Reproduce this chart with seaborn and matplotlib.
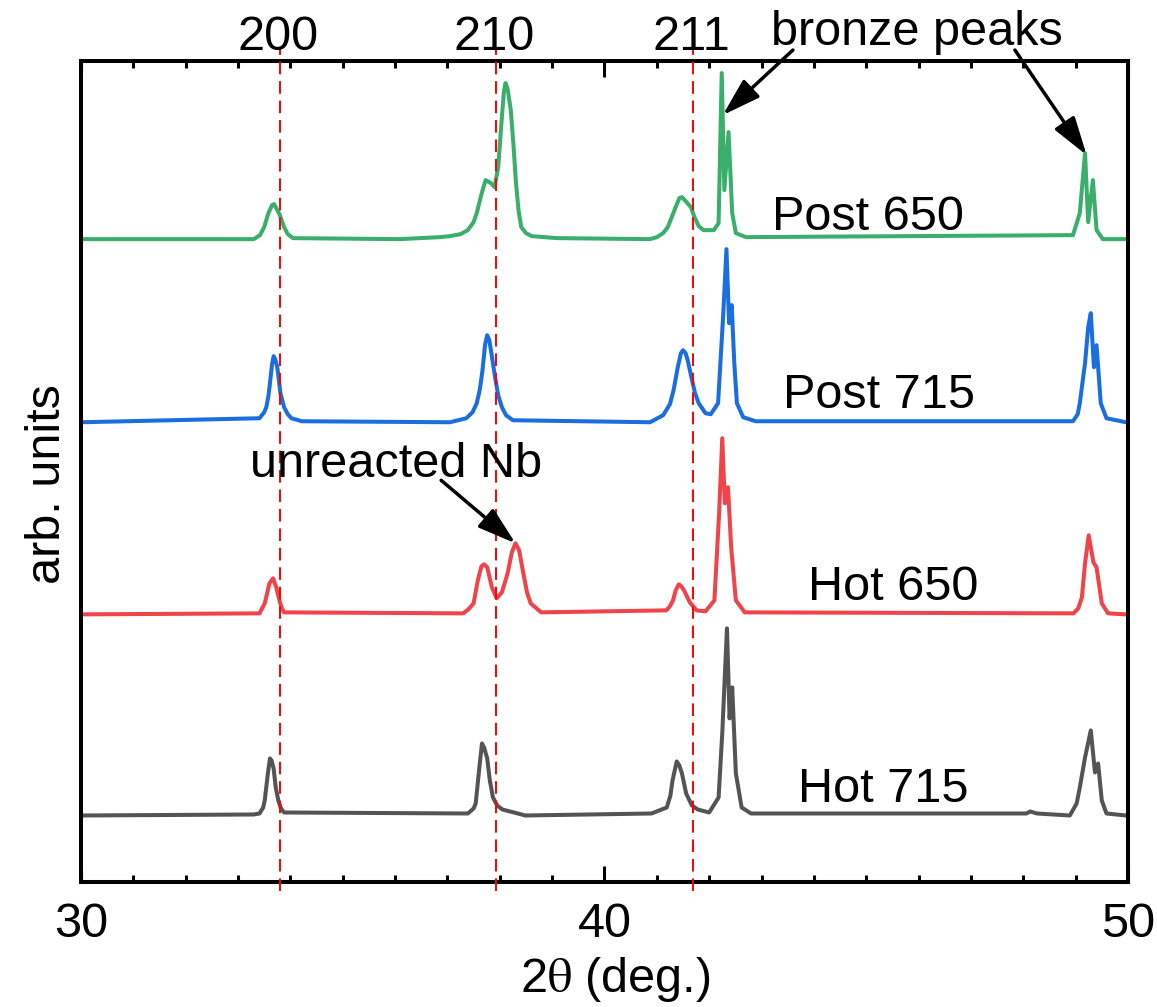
import matplotlib
matplotlib.use("Agg")
import numpy as np
import pandas as pd
import matplotlib.pyplot as plt
import seaborn as sns
from matplotlib.ticker import MultipleLocator

sns.set_theme(style="ticks")
plt.rcParams["font.family"] = ["Liberation Sans", "DejaVu Sans"]
plt.rcParams["mathtext.fontset"] = "stix"
plt.rcParams["text.color"] = "black"
plt.rcParams["axes.labelcolor"] = "black"
plt.rcParams["xtick.color"] = "black"

# XRD patterns: 2theta (deg) and intensity above each baseline (arb.)
GREEN_X = [30.02, 33.30, 33.42, 33.50, 33.58, 33.65, 33.69, 33.74, 33.80, 33.88, 33.95, 34.05,
           36.09, 36.86, 37.05, 37.25, 37.39, 37.50, 37.56, 37.65, 37.73, 37.83, 37.90, 37.97,
           38.03, 38.08, 38.11, 38.15, 38.21, 38.26, 38.31, 38.36, 38.41, 38.50, 38.61, 39.09,
           40.87, 41.00, 41.12, 41.21, 41.30, 41.36, 41.43, 41.48, 41.55, 41.65, 41.72, 41.80,
           41.89, 42.09, 42.18, 42.24, 42.29, 42.37, 42.44, 42.51, 42.70, 48.95, 49.08, 49.18,
           49.24, 49.33, 49.40, 49.52, 49.96]
GREEN_Y = [0.00, 0.00, 0.04, 0.12, 0.26, 0.34, 0.35, 0.30, 0.24, 0.12, 0.05, 0.01,
           0.00, 0.02, 0.03, 0.05, 0.09, 0.17, 0.26, 0.45, 0.59, 0.56, 0.52, 0.72,
           1.15, 1.48, 1.56, 1.50, 1.29, 0.95, 0.56, 0.28, 0.12, 0.06, 0.03, 0.01,
           0.00, 0.02, 0.06, 0.12, 0.24, 0.32, 0.41, 0.42, 0.38, 0.32, 0.22, 0.13,
           0.09, 0.09, 0.16, 1.66, 0.49, 1.07, 0.26, 0.06, 0.02, 0.04, 0.26, 0.86,
           0.17, 0.59, 0.09, 0.00, 0.00]

BLUE_X = [30.02, 33.41, 33.50, 33.54, 33.58, 33.61, 33.65, 33.68, 33.71, 33.75, 33.81, 33.88,
          33.95, 34.02, 34.22, 37.05, 37.36, 37.48, 37.56, 37.62, 37.67, 37.72, 37.76, 37.80,
          37.84, 37.91, 37.97, 38.04, 38.12, 38.25, 40.87, 41.12, 41.25, 41.32, 41.40, 41.46,
          41.50, 41.55, 41.59, 41.66, 41.73, 41.80, 41.93, 42.03, 42.17, 42.27, 42.33, 42.38,
          42.43, 42.48, 42.53, 42.65, 42.89, 48.95, 49.04, 49.08, 49.18, 49.24, 49.29, 49.35,
          49.40, 49.48, 49.59, 49.96]
BLUE_Y = [0.00, 0.04, 0.10, 0.15, 0.26, 0.39, 0.58, 0.66, 0.63, 0.55, 0.29, 0.15,
          0.08, 0.04, 0.01, 0.00, 0.04, 0.10, 0.19, 0.33, 0.52, 0.78, 0.87, 0.82,
          0.69, 0.45, 0.27, 0.15, 0.07, 0.02, 0.00, 0.07, 0.18, 0.32, 0.55, 0.69,
          0.72, 0.69, 0.62, 0.45, 0.29, 0.19, 0.09, 0.08, 0.19, 1.09, 1.73, 0.99,
          1.17, 0.59, 0.19, 0.05, 0.01, 0.01, 0.08, 0.19, 0.59, 0.95, 1.09, 0.55,
          0.77, 0.19, 0.04, 0.00]

RED_X = [30.02, 33.41, 33.51, 33.56, 33.60, 33.67, 33.73, 33.80, 33.84, 33.88, 37.30, 37.40,
         37.50, 37.58, 37.65, 37.70, 37.76, 37.85, 37.94, 38.04, 38.15, 38.23, 38.30, 38.37,
         38.45, 38.52, 38.59, 38.79, 41.18, 41.25, 41.31, 41.36, 41.42, 41.47, 41.52, 41.63,
         41.76, 41.93, 42.10, 42.19, 42.25, 42.30, 42.36, 42.42, 42.51, 42.68, 48.96, 49.05,
         49.12, 49.18, 49.25, 49.34, 49.40, 49.50, 49.62, 49.96]
RED_Y = [0.00, 0.01, 0.11, 0.22, 0.31, 0.36, 0.27, 0.12, 0.06, 0.02, 0.01, 0.05,
         0.11, 0.34, 0.48, 0.50, 0.47, 0.27, 0.16, 0.22, 0.41, 0.62, 0.71, 0.64,
         0.41, 0.22, 0.11, 0.02, 0.04, 0.08, 0.14, 0.24, 0.30, 0.28, 0.24, 0.12,
         0.04, 0.03, 0.14, 1.01, 1.76, 1.11, 1.27, 0.67, 0.14, 0.02, 0.01, 0.06,
         0.17, 0.51, 0.79, 0.52, 0.47, 0.11, 0.01, 0.00]

GRAY_X = [30.02, 33.30, 33.41, 33.48, 33.51, 33.57, 33.61, 33.64, 33.68, 33.72, 33.77, 33.82,
          33.88, 37.39, 37.50, 37.54, 37.61, 37.66, 37.70, 37.76, 37.81, 37.87, 37.95, 38.05,
          38.27, 38.49, 40.90, 41.19, 41.26, 41.30, 41.38, 41.43, 41.48, 41.56, 41.67, 41.78,
          42.00, 42.18, 42.25, 42.34, 42.39, 42.44, 42.51, 42.62, 42.80, 48.06, 48.13, 48.26,
          48.89, 49.02, 49.08, 49.18, 49.29, 49.37, 49.43, 49.50, 49.59, 49.96]
GRAY_Y = [0.00, 0.01, 0.02, 0.08, 0.15, 0.42, 0.57, 0.55, 0.47, 0.28, 0.15, 0.07,
          0.03, 0.02, 0.07, 0.12, 0.48, 0.72, 0.68, 0.57, 0.35, 0.18, 0.10, 0.06,
          0.03, 0.00, 0.02, 0.08, 0.20, 0.35, 0.54, 0.50, 0.42, 0.22, 0.10, 0.06,
          0.03, 0.18, 0.82, 1.87, 0.97, 1.28, 0.42, 0.08, 0.02, 0.02, 0.04, 0.02,
          0.00, 0.12, 0.28, 0.58, 0.85, 0.43, 0.52, 0.15, 0.02, 0.00]

SAMPLES = ["Post 650", "Post 715", "Hot 650", "Hot 715"]
OFFSETS = [6.42, 4.59, 2.67, 0.66]
COLORS = ["#3aaf6b", "#1a6ee0", "#f0434a", "#545454"]

# Nb3Sn reflections
HKL_LABELS = ["200", "210", "211"]
HKL_POS = [33.80, 37.93, 41.69]

series = [(GREEN_X, GREEN_Y), (BLUE_X, BLUE_Y), (RED_X, RED_Y), (GRAY_X, GRAY_Y)]
frames = []
for name, off, (xs, ys) in zip(SAMPLES, OFFSETS, series):
    frames.append(pd.DataFrame({"two_theta": xs,
                                "intensity": np.array(ys) + off,
                                "sample": name}))
df = pd.concat(frames, ignore_index=True)

fig = plt.figure(figsize=(11.57, 10.07), dpi=100)
ax = fig.add_axes([0.0700, 0.1246, 0.9049, 0.8148])

sns.lineplot(data=df, x="two_theta", y="intensity", hue="sample", hue_order=SAMPLES,
             palette=COLORS, estimator=None, sort=False, lw=2.9, legend=False, ax=ax)

for x in HKL_POS:
    ax.axvline(x, ymin=-0.012, ymax=1.016, color="#ff0000", lw=1.4,
               dashes=(6.5, 3.5), clip_on=False, zorder=3)
for lab, x in zip(HKL_LABELS, HKL_POS):
    ax.text(x - 0.03, 8.31, lab, ha="center", va="baseline", fontsize=35)

# curve labels
ax.text(45.03, 6.51, "Post 650", ha="center", va="baseline", fontsize=35)
ax.text(45.24, 4.73, "Post 715", ha="center", va="baseline", fontsize=35)
ax.text(45.51, 2.81, "Hot 650", ha="center", va="baseline", fontsize=35)
ax.text(45.32, 0.79, "Hot 715", ha="center", va="baseline", fontsize=35)

arrow = dict(arrowstyle="-|>,head_length=0.9,head_width=0.28", color="black",
             lw=2.5, shrinkA=0, shrinkB=0, mutation_scale=26)
ax.text(36.02, 4.04, "unreacted Nb", ha="center", va="baseline", fontsize=35)
ax.annotate("", xy=(38.30, 3.38), xytext=(36.88, 4.01), arrowprops=arrow)
ax.text(45.97, 8.36, "bronze peaks", ha="center", va="baseline", fontsize=35)
ax.annotate("", xy=(42.26, 7.66), xytext=(43.60, 8.31), arrowprops=arrow, annotation_clip=False)
ax.annotate("", xy=(49.21, 7.26), xytext=(47.84, 8.31), arrowprops=arrow, annotation_clip=False)

ax.set_xlim(30, 50)
ax.set_ylim(0, 8.2)
ax.set_xticks([30, 40, 50])
ax.xaxis.set_minor_locator(MultipleLocator(1))
ax.set_yticks([])
ax.tick_params(axis="x", which="both", direction="in", top=True, bottom=True,
               width=2.2, color="black", labelsize=35, pad=15, labelcolor="black")
ax.tick_params(axis="x", which="major", length=11.5)
ax.tick_params(axis="x", which="minor", length=5)
for sp in ax.spines.values():
    sp.set_visible(True)
    sp.set_linewidth(2.9)
    sp.set_color("black")

ax.set_xlabel("2$\\mathrm{\\theta}$ (deg.)", fontsize=35, color="black")
ax.set_ylabel("arb. units", fontsize=35, color="black")
ax.xaxis.set_label_coords(0.51, -0.0896)
ax.yaxis.set_label_coords(-0.0105, 0.485)
ax.set_facecolor("white")

fig.savefig("out.png", dpi=100)
